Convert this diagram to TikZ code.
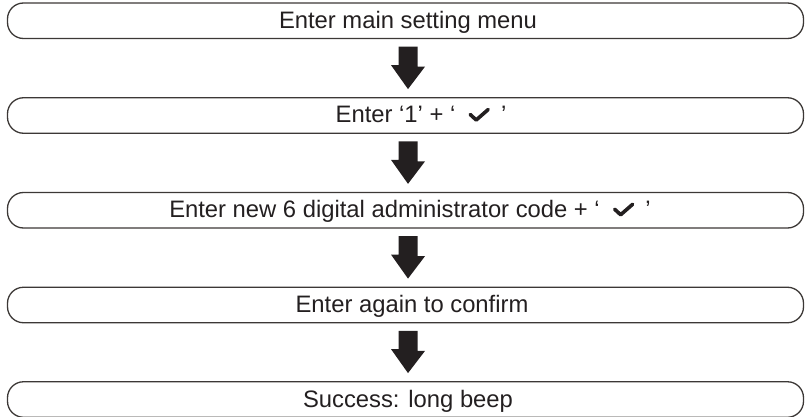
\documentclass[tikz,border=0pt]{standalone}
\usepackage{fontspec}
\setmainfont{Liberation Sans}
\usetikzlibrary{calc}
\definecolor{inkdark}{HTML}{231F20}
\definecolor{boxline}{HTML}{3C3836}
% bold tick mark set inline with the text
\newcommand{\chk}{\hspace{13pt}\tikz[baseline=0pt,x=1pt,y=1pt]
  \draw[inkdark, line width=3.6pt, line cap=round, line join=round]
  (2,8.5) -- (8,3) -- (20,13.5);\hspace{11pt}}
% solid block arrow from the bottom of one step to the top of the next
\newcommand{\blockarrow}[2]{%
  \fill[arrowfill] ($(#1.south)+(-7,7.5)$) -- ++(19,0) -- ++(0,20)
    -- ++(7.5,0) -- ($(#2.north)+(2.5,-8)$) -- ++(-17,-24) -- ++(7.5,0) -- cycle;}
\begin{document}
\begin{tikzpicture}[x=1pt,y=-1pt,
  stepbox/.style={draw=boxline, line width=1.3pt, rounded corners=16pt,
    minimum width=796pt, minimum height=35.5pt, inner sep=0pt},
  steptext/.style={anchor=base, inner sep=0pt, text=inkdark,
    font=\fontsize{23.8pt}{28pt}\selectfont},
  arrowfill/.style={fill=inkdark}]
\useasboundingbox (0,0) rectangle (805,417);

% the five steps
\node[stepbox] (b1) at (405.5,20.75)  {};
\node[stepbox] (b2) at (405.5,115.5)  {};
\node[stepbox] (b3) at (405.5,210.25) {};
\node[stepbox] (b4) at (405.5,305)    {};
\node[stepbox] (b5) at (405.5,399.5)  {};

\node[steptext] (t1) at ($(b1.center)+(2.5,7.5)$) {Enter main setting menu};
\node[steptext] (t2) at ($(b2.center)+(15.5,7.5)$) {Enter ‘1’ + ‘\chk’};
\node[steptext] (t3) at ($(b3.center)+(4.5,7.5)$) {Enter new 6 digital administrator code + ‘\chk’};
\node[steptext] (t4) at ($(b4.center)+(6.5,7.5)$) {Enter again to confirm};
\node[steptext] (t5) at ($(b5.center)+(2.5,7.5)$) {Success: long beep};

% block arrows between the steps
\blockarrow{b1}{b2}
\blockarrow{b2}{b3}
\blockarrow{b3}{b4}
\blockarrow{b4}{b5}
\end{tikzpicture}
\end{document}
